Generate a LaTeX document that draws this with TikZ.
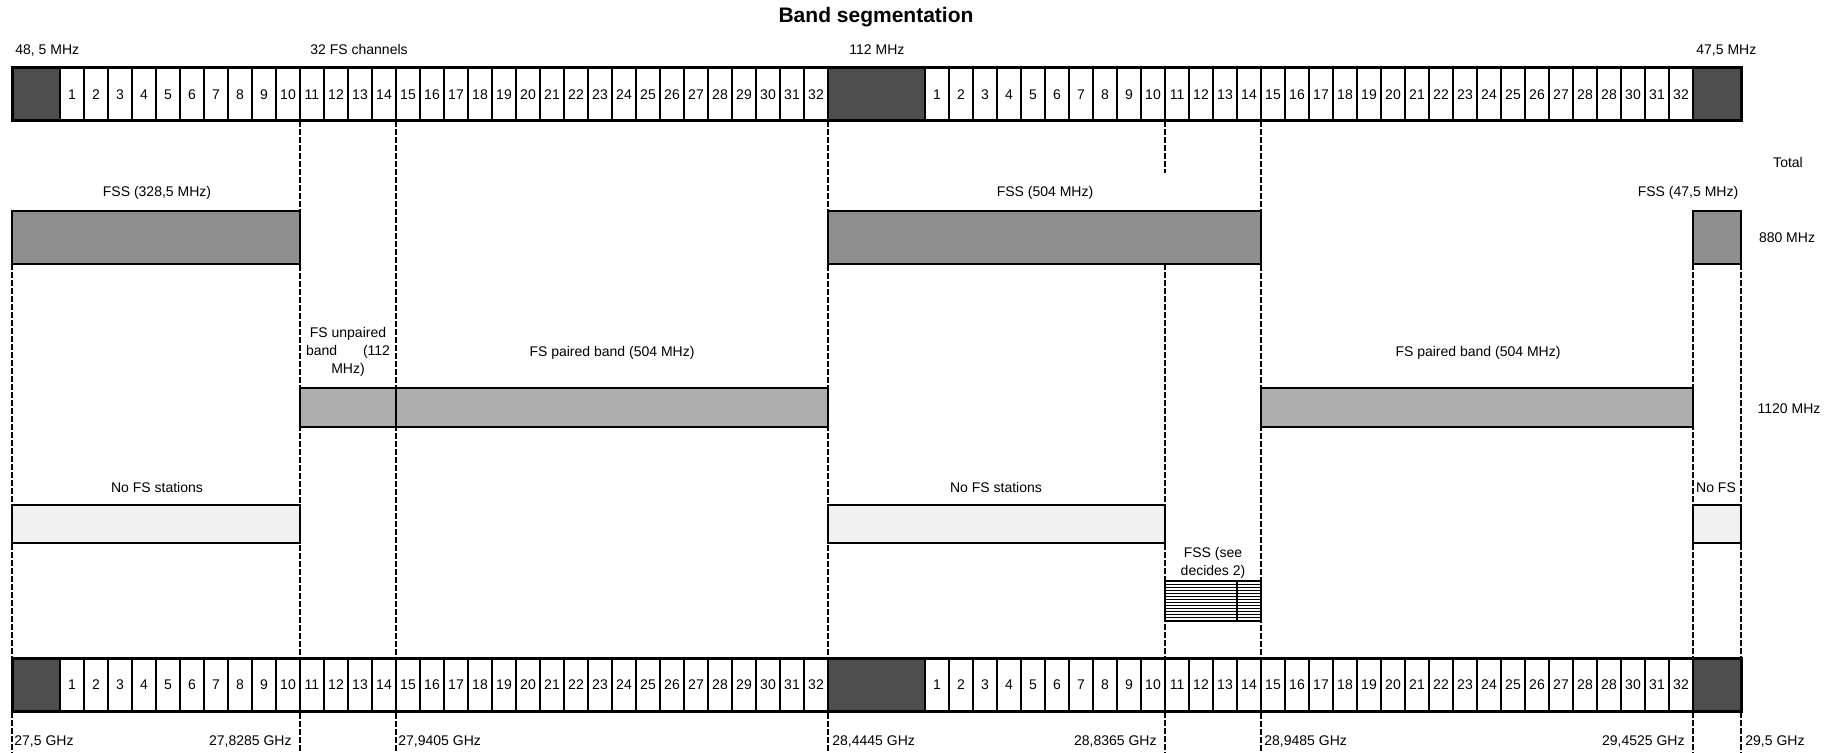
\documentclass[tikz,border=0pt]{standalone}
\usepackage{fontspec}
\setmainfont{Liberation Sans}
\usepackage{xcolor}
\definecolor{cInk}{HTML}{000000}
\definecolor{cDark}{HTML}{4D4D4D}
\definecolor{cFss}{HTML}{8F8F8F}
\definecolor{cPair}{HTML}{ADADAD}
\definecolor{cNoFs}{HTML}{F0F0F0}
\usetikzlibrary{positioning}
\tikzset{
  band-box/.style={draw=cInk,line width=1pt},
  band-fss/.style={band-box,fill=cFss},
  band-pair/.style={band-box,fill=cPair},
  band-nofs/.style={band-box,fill=cNoFs},
  band-dark/.style={fill=cDark},
  guide/.style={draw=cInk,line width=0.9pt,dash pattern=on 3pt off 1pt},
  lbl/.style={font=\fontsize{7}{9}\selectfont,inner sep=0pt,
    text height=5pt,text depth=0pt},
  lbl-multi/.style={font=\fontsize{7}{9}\selectfont,inner sep=0pt,align=center},
}

\begin{document}
\begin{tikzpicture}[x=0.5pt,y=-0.5pt]
  \useasboundingbox (0,0) rectangle (1834,753);
  \node[font=\bfseries\fontsize{10.5}{12}\selectfont] (title) at (876,17) {Band segmentation};

  % dashed guides
  \foreach \gx in {300,396,828,1261} \draw[guide] (\gx,121) -- (\gx,753);
  \draw[guide] (1165,121) -- (1165,173);
  \draw[guide] (1165,264) -- (1165,753);
  \foreach \gx in {12,1693,1741} \draw[guide] (\gx,264) -- (\gx,753);

  % channel rows (top / bottom)
  \foreach \ry/\rn in {68/up,658/dn} {
    \fill[band-dark] (12,\ry) rectangle (60,\ry+53);
    \fill[band-dark] (828,\ry) rectangle (925,\ry+53);
    \fill[band-dark] (1693,\ry) rectangle (1741,\ry+53);
    \foreach \i in {1,...,32} {
      \draw[line width=1pt] ({36+24*\i},\ry) -- ++(0,53);
      \draw[line width=1pt] ({901+24*\i},\ry) -- ++(0,53);
      \node[lbl] (\rn-a\i) at ({48+24*\i},\ry+26.5) {\i};
      \node[lbl] (\rn-b\i) at ({913+24*\i},\ry+26.5) {\ifnum\i=29 28\else\i\fi};
    }
    \draw[line width=1pt] (828,\ry) -- ++(0,53);
    \draw[line width=1pt] (1693,\ry) -- ++(0,53);
    \draw[line width=1.5pt] (12,\ry) rectangle (1741,\ry+53);
  }

  % band blocks
  \draw[band-fss] (12,211) rectangle (300,264);
  \draw[band-fss] (828,211) rectangle (1261,264);
  \draw[band-fss] (1693,211) rectangle (1741,264);
  \draw[band-pair] (300,388) rectangle (396,427);
  \draw[band-pair] (396,388) rectangle (828,427);
  \draw[band-pair] (1261,388) rectangle (1693,427);
  \draw[band-nofs] (12,505) rectangle (300,543);
  \draw[band-nofs] (828,505) rectangle (1165,543);
  \draw[band-nofs] (1693,505) rectangle (1741,543);
  \fill[white] (1165,581) rectangle (1261,621);
  \foreach \hy in {584,587,...,618} \draw[line width=0.5pt] (1165,\hy) -- (1261,\hy);
  \draw[band-box] (1165,581) rectangle (1261,621);
  \draw[band-box] (1237,581) -- (1237,621);

  % top labels
  \node[lbl,anchor=west] (f-low) at (15,50) {48, 5 MHz};
  \node[lbl,anchor=west] (f-chan) at (310,50) {32 FS channels};
  \node[lbl,anchor=west] (f-mid) at (849,50) {112 MHz};
  \node[lbl,anchor=west] (f-high) at (1696,50) {47,5 MHz};

  % band labels
  \node[lbl] (fss-a-lbl) at (157,192) {FSS (328,5 MHz)};
  \node[lbl] (fss-b-lbl) at (1045,192) {FSS (504 MHz)};
  \node[lbl] (fss-c-lbl) at (1688,192) {FSS (47,5 MHz)};
  \node[lbl-multi] (unpair-lbl) at (348,352) {FS unpaired\\\hbox to 42pt{band\hfill(112}\\MHz)};
  \node[lbl] (pair-a-lbl) at (612,352) {FS paired band (504 MHz)};
  \node[lbl] (pair-b-lbl) at (1478,352) {FS paired band (504 MHz)};
  \node[lbl] (nofs-a-lbl) at (157,487) {No FS stations};
  \node[lbl] (nofs-b-lbl) at (996,487) {No FS stations};
  \node[lbl] (nofs-c-lbl) at (1716,487) {No FS};
  \node[lbl-multi] (fssd-lbl) at (1213,563) {FSS (see\\decides 2)};

  % totals
  \node[lbl] (total) at (1788,163) {Total};
  \node[lbl] (sum-a) at (1787,238) {880 MHz};
  \node[lbl] (sum-b) at (1789,408) {1120 MHz};

  % bottom frequencies
  \node[lbl,anchor=west] (g-1) at (14,740) {27,5 GHz};
  \node[lbl,anchor=east] (g-2) at (292,740) {27,8285 GHz};
  \node[lbl,anchor=west] (g-3) at (398,740) {27,9405 GHz};
  \node[lbl,anchor=west] (g-4) at (832,740) {28,4445 GHz};
  \node[lbl,anchor=east] (g-5) at (1157,740) {28,8365 GHz};
  \node[lbl,anchor=west] (g-6) at (1264,740) {28,9485 GHz};
  \node[lbl,anchor=east] (g-7) at (1685,740) {29,4525 GHz};
  \node[lbl,anchor=west] (g-8) at (1745,740) {29,5 GHz};
\end{tikzpicture}
\end{document}
